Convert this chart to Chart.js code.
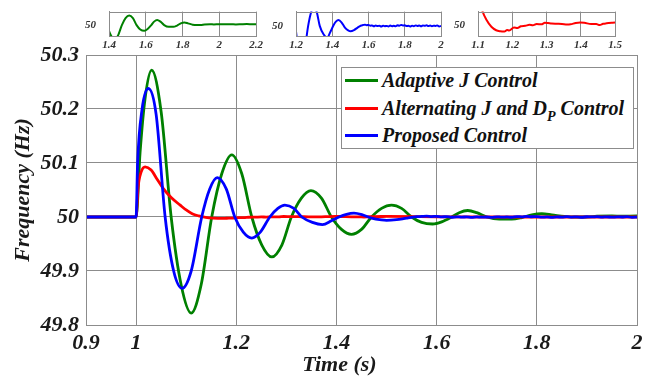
<!DOCTYPE html>
<html>
<head>
<meta charset="utf-8">
<script src="https://cdn.jsdelivr.net/npm/chart.js@4.4.0/dist/chart.umd.min.js"></script>
<style>
  body { margin: 0; background: #fff; }
  #wrap { position: relative; width: 654px; height: 388px; overflow: hidden; }
  #wrap canvas { position: absolute; top: 0; }
  #legend {
    position: absolute; left: 341px; top: 67px; width: 291px; height: 80px;
    border: 1px solid #8c8c8c; background: #fff;
    font-family: 'Liberation Serif', serif; font-style: italic; font-weight: bold; font-size: 20px; color: #111;
  }
  #legend .row { position: absolute; left: 3px; height: 24px; display: flex; align-items: center; white-space: nowrap; }
  #legend .swatch { width: 33px; height: 0; border-top: 3px solid; margin-right: 4px; }
  #legend sub { font-size: 14px; vertical-align: -6px; line-height: 0; }
</style>
</head>
<body>
<div id="wrap">
  <canvas id="main" width="654" height="388" style="left:0"></canvas>
  <canvas id="inset1" width="186" height="56" style="left:80px"></canvas>
  <canvas id="inset2" width="180" height="56" style="left:267px"></canvas>
  <canvas id="inset3" width="176" height="56" style="left:449px"></canvas>
  <div id="legend"></div>
</div>
<script>
// series labels and colours
const seriesLabels = ['Adaptive J Control', 'Alternating J and D_P Control', 'Proposed Control']
const seriesColors = ['#008000', '#ff0000', '#0000ff']

// Adaptive J control (green)
const adaptiveTime = [0.9, 1.0, 1.008, 1.018, 1.031, 1.05, 1.07, 1.09, 1.11, 1.13, 1.151, 1.171, 1.191, 1.211, 1.231,
  1.251, 1.271, 1.291, 1.31, 1.33, 1.349, 1.37, 1.39, 1.41, 1.43, 1.45, 1.47, 1.49, 1.51, 1.53, 1.55, 1.57, 1.592,
  1.61, 1.63, 1.645, 1.662, 1.68, 1.70, 1.725, 1.75, 1.77, 1.79, 1.81, 1.83, 1.855, 1.875, 1.898, 1.92, 1.95, 1.97,
  2.0, 2.03, 2.06, 2.09, 2.12, 2.15, 2.18, 2.2]
const adaptiveFreq = [50, 50, 50.12, 50.22, 50.272, 50.195, 50.0, 49.874, 49.822, 49.875, 50.0, 50.08, 50.115, 50.08, 50.0,
  49.948, 49.926, 49.948, 50.0, 50.035, 50.049, 50.035, 50.0, 49.977, 49.968, 49.977, 50.0, 50.016, 50.022, 50.016,
  50.0, 49.99, 49.987, 49.991, 50.0, 50.008, 50.012, 50.008, 50.0, 49.996, 49.996, 49.999, 50.004, 50.006, 50.004,
  50.001, 50.0, 50.0, 50.0015, 50.002, 50.0015, 50.002, 50.0018, 50.0022, 50.0016, 50.002, 50.0023, 50.0019, 50.0021]

// Alternating J and D_P control (red)
const alternatingTime = [0.9, 1.0, 1.004, 1.01, 1.018, 1.03, 1.042, 1.054, 1.07, 1.088, 1.1, 1.112, 1.125, 1.139, 1.153,
  1.165, 1.177, 1.185, 1.191, 1.205, 1.215, 1.225, 1.238, 1.25, 1.26, 1.271, 1.285, 1.295, 1.304, 1.315, 1.33, 1.345,
  1.36, 1.37, 1.385, 1.398, 1.41, 1.43, 1.445, 1.455, 1.465, 1.475, 1.49, 1.5, 1.6, 1.7, 1.8, 2.0]
const alternatingFreq = [50, 50, 50.055, 50.083, 50.093, 50.087, 50.07, 50.053, 50.036, 50.022, 50.013, 50.006, 50.002,
  49.9993, 49.9979, 49.9975, 49.9974, 49.998, 49.9978, 49.999, 49.9988, 49.9995, 49.9997, 50.0001, 49.9999, 50.0004,
  50.0003, 50.0009, 50.0008, 50.0006, 50.0005, 50.0004, 50.0002, 50.0003, 50.0008, 50.001, 50.0009, 50.0004, 50.0004,
  50.0, 50.0005, 50.0007, 50.0009, 50.001, 50.0005, 50.0, 50.0, 50.0]

// Proposed control (blue)
const proposedTime = [0.9, 1.0, 1.003, 1.012, 1.0246, 1.04, 1.058, 1.075, 1.092, 1.11, 1.131, 1.147, 1.162, 1.18, 1.197,
  1.214, 1.231, 1.248, 1.267, 1.283, 1.297, 1.315, 1.331, 1.352, 1.372, 1.39, 1.405, 1.42, 1.435, 1.452, 1.47, 1.49,
  1.5, 1.52, 1.54, 1.56, 1.57, 1.58, 1.59, 1.60, 1.61, 1.62, 1.63, 1.64, 1.65, 1.66, 1.67, 1.68, 1.69, 1.70, 1.71,
  1.72, 1.73, 1.74, 1.75, 1.76, 1.77, 1.78, 1.79, 1.80, 1.81, 1.82, 1.83, 1.84, 1.85, 1.86, 1.87, 1.88, 1.89, 1.90,
  1.91, 1.92, 1.93, 1.94, 1.95, 1.96, 1.97, 1.98, 1.99, 2.0]
const proposedFreq = [50, 50, 50.1, 50.2, 50.238, 50.19, 50.0, 49.9, 49.868, 49.9, 50.0, 50.052, 50.073, 50.052, 50.0,
  49.972, 49.961, 49.972, 50.0, 50.016, 50.022, 50.016, 50.0, 49.99, 49.986, 49.993, 50.0, 50.005, 50.007, 50.004,
  49.998, 49.9945, 49.9937, 49.995, 49.998, 50.0005, 50.001, 50.0015, 50.0008, 50.0012, 50.0003, 50.0006, 49.9995,
  50.0004, 49.9998, 50.0002, 49.9992, 50.0003, 49.9996, 50.0, 49.9993, 50.0004, 49.9997, 50.0002, 49.9995, 50.0008,
  50.0003, 50.0012, 50.0005, 50.0007, 49.9998, 50.0001, 49.9994, 50.0003, 49.9997, 50.0006, 49.9999, 50.0004, 49.9995,
  50.0005, 50.0001, 50.0007, 49.9998, 50.0004, 49.9996, 50.0003, 50.0, 50.0006, 49.9994, 49.9999]

// tick labels
const mainXTicks = [0.9, 1, 1.2, 1.4, 1.6, 1.8, 2]
const mainYTicks = [49.8, 49.9, 50, 50.1, 50.2, 50.3]
const inset1Ticks = [1.4, 1.6, 1.8, 2, 2.2]
const inset2Ticks = [1.2, 1.4, 1.6, 1.8, 2]
const inset3Ticks = [1.1, 1.2, 1.3, 1.4, 1.5]

const serifFamily = "'Liberation Serif', serif"

function points(t, f) {
    return t.map((x, i) => ({x: x, y: f[i]}))
}
const allSeries = [points(adaptiveTime, adaptiveFreq), points(alternatingTime, alternatingFreq), points(proposedTime, proposedFreq)]

function fixedTicks(list) {
    return function (scale) { scale.ticks = list.map(v => ({value: v})) }
}
function plainLabel(v) {
    return String(Math.round(v * 100) / 100)
}

// grey frame round the plot area
const framePlugin = {
    id: 'frame',
    afterDraw(chart) {
        const a = chart.chartArea
        const ctx = chart.ctx
        ctx.save()
        ctx.strokeStyle = '#8c8c8c'
        ctx.lineWidth = 1
        ctx.strokeRect(Math.round(a.left) + 0.5, Math.round(a.top) + 0.5, Math.round(a.right - a.left), Math.round(a.bottom - a.top))
        ctx.restore()
    }
}

Chart.defaults.animation = false
Chart.defaults.devicePixelRatio = 1
Chart.defaults.font.family = serifFamily

const bigFont = { family: serifFamily, size: 22, style: 'italic', weight: 'bold' }
const smallFont = { family: serifFamily, size: 11, style: 'italic', weight: 'bold' }

new Chart(document.getElementById('main').getContext('2d'), {
    type: 'line',
    data: {
        datasets: allSeries.map((d, i) => ({
            label: seriesLabels[i],
            data: d,
            borderColor: seriesColors[i],
            backgroundColor: seriesColors[i],
            borderWidth: 2.8,
            pointRadius: 0,
            cubicInterpolationMode: 'monotone',
            order: 3 - i
        }))
    },
    options: {
        responsive: false,
        layout: { padding: { top: 55, right: 17, left: 0, bottom: 0 } },
        plugins: { legend: { display: false }, tooltip: { enabled: false } },
        scales: {
            x: {
                type: 'linear', min: 0.9, max: 2,
                afterBuildTicks: fixedTicks(mainXTicks),
                afterFit(scale) { scale.height = 63 },
                grid: { color: '#8c8c8c', drawTicks: false },
                border: { color: '#8c8c8c' },
                ticks: { padding: 5, color: '#1a1a1a', font: bigFont, callback: plainLabel },
                title: {
                    display: true, text: 'Time (s)\u2003\u2003', color: '#1a1a1a',
                    padding: { top: 0, bottom: 9 },
                    font: bigFont
                }
            },
            y: {
                type: 'linear', min: 49.8, max: 50.3,
                afterBuildTicks: fixedTicks(mainYTicks),
                afterFit(scale) { scale.width = 86 },
                grid: { color: '#8c8c8c', drawTicks: false },
                border: { color: '#8c8c8c' },
                ticks: { padding: 7, color: '#1a1a1a', font: bigFont, callback: plainLabel },
                title: {
                    display: true, text: 'Frequency (Hz)', color: '#1a1a1a',
                    padding: { top: 10, bottom: 0 },
                    font: bigFont
                }
            }
        }
    },
    plugins: [framePlugin]
})

function createInset(id, series, xMin, xMax, yMin, yMax, ticks) {
    new Chart(document.getElementById(id).getContext('2d'), {
        type: 'line',
        data: {
            datasets: [{
                data: allSeries[series],
                borderColor: seriesColors[series],
                borderWidth: 2,
                pointRadius: 0,
                cubicInterpolationMode: 'monotone'
            }]
        },
        options: {
            responsive: false,
            layout: { padding: { top: 7, right: 6, left: 0, bottom: 0 } },
            plugins: { legend: { display: false }, tooltip: { enabled: false } },
            scales: {
                x: {
                    type: 'linear', min: xMin, max: xMax,
                    afterBuildTicks: fixedTicks(ticks),
                    afterFit(scale) { scale.height = 20 },
                    grid: { color: '#8c8c8c', drawTicks: false },
                    border: { color: '#8c8c8c' },
                    ticks: { padding: 3, color: '#333', font: smallFont, callback: plainLabel }
                },
                y: {
                    type: 'linear', min: yMin, max: yMax,
                    afterBuildTicks: fixedTicks([50]),
                    afterFit(scale) { scale.width = 29 },
                    grid: { display: false },
                    border: { color: '#8c8c8c' },
                    ticks: { padding: 5, color: '#333', font: smallFont, callback: plainLabel }
                }
            }
        },
        plugins: [framePlugin]
    })
}

createInset('inset1', 0, 1.4, 2.2, 49.975, 50.031, inset1Ticks)
createInset('inset2', 2, 1.2, 2.0, 49.988, 50.017, inset2Ticks)
createInset('inset3', 1, 1.1, 1.5, 49.9956, 50.0054, inset3Ticks)

// legend with subscript
let legend = document.getElementById('legend')
const rowTops = [0, 28, 55]
seriesLabels.forEach((label, i) => {
    let row = document.createElement('div')
    row.className = 'row'
    row.style.top = rowTops[i] + 'px'
    let swatch = document.createElement('span')
    swatch.className = 'swatch'
    swatch.style.borderColor = seriesColors[i]
    row.appendChild(swatch)
    let text = document.createElement('span')
    let parts = label.split('_')
    text.appendChild(document.createTextNode(parts[0]))
    if (parts.length > 1) {
        let sub = document.createElement('sub')
        sub.innerText = parts[1].split(' ')[0]
        text.appendChild(sub)
        text.appendChild(document.createTextNode(' ' + parts[1].split(' ').slice(1).join(' ')))
    }
    row.appendChild(text)
    legend.appendChild(row)
})
</script>
</body>
</html>
